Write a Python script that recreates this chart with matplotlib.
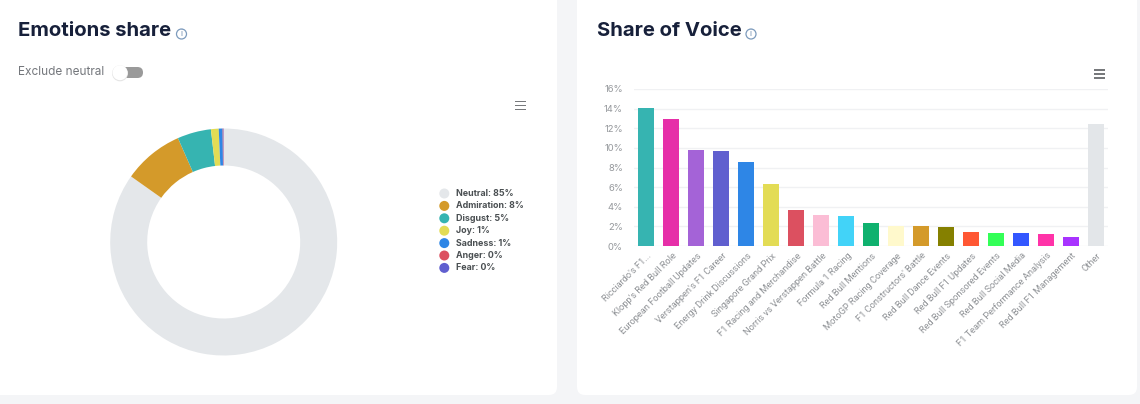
import matplotlib
matplotlib.use('Agg')
import matplotlib.pyplot as plt
from matplotlib.patches import FancyBboxPatch, Circle, Rectangle
from matplotlib.transforms import ScaledTranslation

plt.rcParams['font.family'] = ['Inter', 'DejaVu Sans']

# emotions donut
emotions = ['Neutral', 'Admiration', 'Disgust', 'Joy', 'Sadness', 'Anger', 'Fear']
emotion_labels = ['85%', '8%', '5%', '1%', '1%', '0%', '0%']
emotion_values = [84.8, 8.6, 4.8, 1.1, 0.55, 0.1, 0.05]
emotion_colors = ['#e4e7ea', '#d49a2a', '#36b4b1', '#e3dc55', '#2e86e6', '#dc5060', '#605fcf']

# share of voice bars
topics = ["Ricciardo's F1...", "Klopp's Red Bull Role", 'European Football Updates',
          "Verstappen's F1 Career", 'Energy Drink Discussions', 'Singapore Grand Prix',
          'F1 Racing and Merchandise', 'Norris vs Verstappen Battle', 'Formula 1 Racing',
          'Red Bull Mentions', 'MotoGP Racing Coverage', "F1 Constructors' Battle",
          'Red Bull Dance Events', 'Red Bull F1 Updates', 'Red Bull Sponsored Events',
          'Red Bull Social Media', 'F1 Team Performance Analysis', 'Red Bull F1 Management',
          'Other']
shares = [14.1, 12.9, 9.8, 9.65, 8.55, 6.35, 3.65, 3.15, 3.05, 2.35,
          2.05, 2.05, 1.95, 1.45, 1.35, 1.35, 1.2, 0.95, 12.4]
bar_colors = ['#36b4b1', '#e62fa8', '#a463d7', '#605fcf', '#2e86e6', '#e3dc55',
              '#dc5060', '#fbbdd5', '#42d3f8', '#0fb16e', '#fff9cc', '#d49a2a',
              '#858000', '#ff5733', '#33ff57', '#3357ff', '#ff33a8', '#a833ff', '#e3e6e9']
yticks = [0, 2, 4, 6, 8, 10, 12, 14, 16]

W, H = 1140, 404
fig = plt.figure(figsize=(W / 100, H / 100), dpi=100, facecolor='#f4f5f7')


def px_axes(x0, y0, x1, y1):
    return fig.add_axes([x0 / W, 1 - y1 / H, (x1 - x0) / W, (y1 - y0) / H])


# page layer in pixel coordinates
bg = fig.add_axes([0, 0, 1, 1])
bg.set_xlim(0, W)
bg.set_ylim(H, 0)
bg.axis('off')
for x0, x1 in [(-20, 557), (577, 1137)]:
    bg.add_patch(FancyBboxPatch((x0, -20), x1 - x0, 415, boxstyle='round,pad=0,rounding_size=8',
                                fc='white', ec='none', lw=0))

navy = '#17203a'
bg.text(18, 31, 'Emotions share', fontsize=14.6, fontweight='bold', color=navy, va='center')
bg.text(597, 31, 'Share of Voice', fontsize=14.6, fontweight='bold', color=navy, va='center')
for cx in (181.5, 751):
    bg.add_patch(Circle((cx, 34), 5, fc='none', ec='#7d9bbd', lw=0.9))
    bg.text(cx, 34, 'i', fontsize=6, color='#6f8db0', ha='center', va='center')

# toggle
bg.text(18, 72, 'Exclude neutral', fontsize=8.5, color='#74777c', va='center')
bg.add_patch(FancyBboxPatch((118, 67), 25, 11, boxstyle='round,pad=0,rounding_size=5.5', fc='#9a9a9a', ec='none'))
bg.add_patch(Circle((120, 73.3), 8, fc='#e4e4e4', ec='none'))
bg.add_patch(Circle((120, 72.7), 7.5, fc='white', ec='none'))

# hamburger menus
for mx, my in [(520.5, 105.5), (1099, 74)]:
    for dy in (-4, 0, 4):
        bg.add_patch(Rectangle((mx - 5.5, my + dy - 0.6), 11, 1.2, fc='#77797c', ec='none'))

# donut
ax_pie = px_axes(223.7 - 116, 242 - 116, 223.7 + 116, 242 + 116)
ax_pie.pie(emotion_values, colors=emotion_colors, startangle=90, counterclock=False,
           radius=113.5 / 116, wedgeprops={'width': 37 / 116, 'linewidth': 0})
ax_pie.set_xlim(-1, 1)
ax_pie.set_ylim(-1, 1)

# legend by hand so the spacing follows the reference
for i, (name, lab, col) in enumerate(zip(emotions, emotion_labels, emotion_colors)):
    ly = 193.5 + i * 12.4
    bg.add_patch(Circle((444.3, ly), 5, fc=col, ec='none'))
    bg.text(455.5, ly, f'{name}: {lab}', fontsize=6.4, fontweight='bold', color='#4a4f52', va='center')

# bars
ax = px_axes(634, 89, 1108, 246)
ax.bar(range(len(shares)), shares, width=0.64, color=bar_colors, zorder=3)
ax.set_xlim(-0.5, len(shares) - 0.5)
ax.set_ylim(0, 16)
ax.patch.set_alpha(0)
ax.set_yticks(yticks)
ax.set_yticklabels([f'{t}%' for t in yticks], fontsize=6.8, color='#95989c')
ax.set_xticks(range(len(topics)))
ax.set_xticklabels(topics, rotation=45, ha='right', va='center', rotation_mode='anchor',
                   fontsize=6.7, color='#8f9296', family='Roboto')
ax.tick_params(axis='both', length=0)
ax.tick_params(axis='y', pad=8)
ax.tick_params(axis='x', pad=6)
ax.grid(axis='y', color='#f0f1f3', lw=1, zorder=0)
for s in ax.spines.values():
    s.set_visible(False)

# nudge the slanted labels right
shift = ScaledTranslation(4 / 100, 0, fig.dpi_scale_trans)
for lab in ax.get_xticklabels():
    lab.set_transform(lab.get_transform() + shift)

fig.savefig('out.png', dpi=100, facecolor=fig.get_facecolor())
